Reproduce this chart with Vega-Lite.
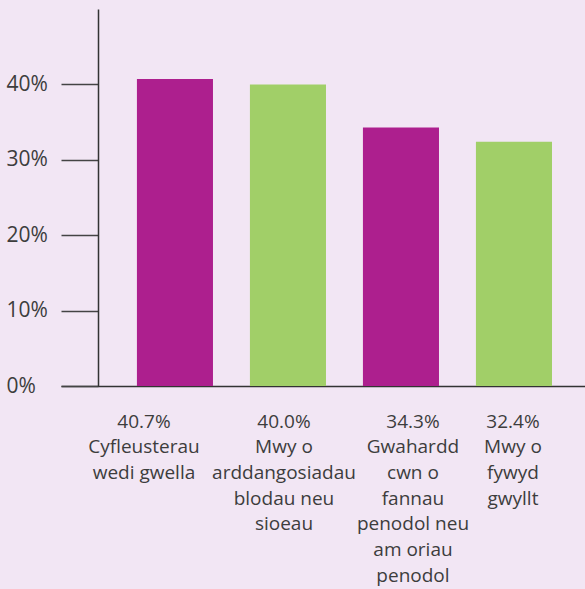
{
  "$schema": "https://vega.github.io/schema/vega-lite/v6.json",
  "width": 524,
  "height": 377,
  "autosize": {"type": "none"},
  "padding": {"left": 61, "top": 9, "right": 0, "bottom": 203},
  "background": "#f2e6f4",
  "config": {"view": {"stroke": null}, "font": "Open Sans"},
  "data": {
    "values": [
      {"category": "Cyfleusterau|wedi gwella", "value": 0.407},
      {"category": "Mwy o|arddangosiadau|blodau neu|sioeau", "value": 0.400},
      {"category": "Gwahardd|cwn o|fannau|penodol neu|am oriau|penodol", "value": 0.343},
      {"category": "Mwy o|fywyd|gwyllt", "value": 0.324}
    ]
  },
  "transform": [
    {"calculate": "format(datum.value, '.1%') + '|' + datum.category", "as": "label"}
  ],
  "mark": {"type": "bar"},
  "encoding": {
    "x": {
      "field": "label",
      "type": "nominal",
      "sort": null,
      "scale": {"paddingInner": 0.327, "paddingOuter": 0.482, "align": 0.697},
      "axis": {
        "title": null,
        "labelAngle": 0,
        "ticks": false,
        "domainColor": "#333333",
        "domainWidth": 1.5,
        "labelExpr": "split(datum.label, '|')",
        "labelFontSize": 19,
        "labelLineHeight": 25.7,
        "labelColor": "#3d3d3d",
        "labelPadding": 26,
        "labelBaseline": "top",
        "labelAlign": "center",
        "labelLimit": 300,
        "labelOffset": {"expr": "indexof(datum.value, 'Cyfleusterau') >= 0 ? -31 : indexof(datum.value, 'arddangos') >= 0 ? -4 : indexof(datum.value, 'Gwahardd') >= 0 ? 12 : -1"}
      }
    },
    "y": {
      "field": "value",
      "type": "quantitative",
      "scale": {"domain": [0, 0.5]},
      "axis": {
        "title": null,
        "values": [0, 0.1, 0.2, 0.3, 0.4],
        "format": ".0%",
        "grid": false,
        "offset": -37,
        "tickSize": 37,
        "tickColor": "#444444",
        "tickWidth": 1.5,
        "domainColor": "#333333",
        "domainWidth": 1.5,
        "labelPadding": 55,
        "labelAlign": "left",
        "labelBaseline": "middle",
        "labelFontSize": 21,
        "labelColor": "#3d3d3d"
      }
    },
    "color": {
      "field": "category",
      "type": "nominal",
      "sort": null,
      "scale": {"range": ["#ad1f8e", "#a1cf68", "#ad1f8e", "#a1cf68"]},
      "legend": null
    }
  }
}
